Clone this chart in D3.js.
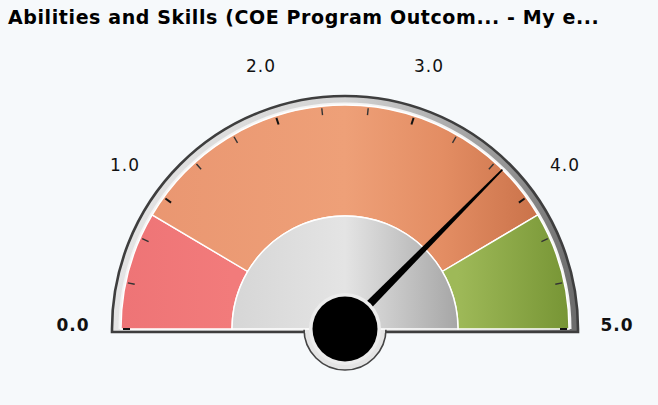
<!DOCTYPE html>
<html>
<head>
<meta charset="utf-8">
<script src="https://cdn.jsdelivr.net/npm/d3@7/dist/d3.min.js"></script>
<style>
  html, body { margin: 0; padding: 0; background: #f6f9fb; }
  svg { display: block; }
</style>
</head>
<body>
<svg id="chart" width="658" height="405"></svg>
<script>
// Gauge data
const title = "Abilities and Skills (COE Program Outcom... - My e...";
const scaleMin = 0;
const scaleMax = 5;
const tickLabels = ["0.0", "1.0", "2.0", "3.0", "4.0", "5.0"];
const labelValues = [0, 1, 2, 3, 4, 5];
const minorStep = 1 / 3;
const bandNames = ["low", "mid", "high"];
const bandFrom = [0, 0.85, 4.15];
const bandTo = [0.85, 4.15, 5];
const needleValue = 3.74;

const svg = d3.select("#chart");
const W = 658, H = 405;
const cx = 345, cy = 329;
const rFrame = 233, rBand = 224, rInner = 113, rLabel = 272;

// value -> d3.arc angle (0 at top, clockwise)
const ang = d3.scaleLinear().domain([scaleMin, scaleMax]).range([-Math.PI / 2, Math.PI / 2]);

svg.append("rect").attr("width", W).attr("height", H).attr("fill", "#f6f9fb");

svg.append("text")
  .attr("x", 8).attr("y", 24)
  .attr("font-family", "DejaVu Sans, Verdana, sans-serif")
  .attr("font-weight", "bold")
  .attr("font-size", 19)
  .attr("letter-spacing", 0.6)
  .attr("fill", "#000")
  .text(title);

// Gradients are given in the gauge's local coordinates (origin at the centre)
const defs = svg.append("defs");
function grad(id, x1, x2, stops) {
  const g = defs.append("linearGradient").attr("id", id)
    .attr("gradientUnits", "userSpaceOnUse")
    .attr("x1", x1).attr("x2", x2).attr("y1", 0).attr("y2", 0);
  stops.forEach(s => g.append("stop").attr("offset", s[0]).attr("stop-color", s[1]));
}
grad("rimGrad", -rFrame, rFrame, [[0, "#e4e4e4"], [0.5, "#d4d4d4"], [0.85, "#959595"], [1, "#6a6a6a"]]);
grad("g-low", -rBand, -rInner, [[0, "#ee7476"], [1, "#f27b7b"]]);
grad("g-mid", -rBand, rBand, [[0, "#e99570"], [0.5, "#eea078"], [0.72, "#e38d63"], [1, "#c26a42"]]);
grad("g-high", rInner, rBand, [[0, "#9eb958"], [1, "#779535"]]);
grad("g-inner", -rInner, rInner, [[0, "#d6d6d6"], [0.5, "#e4e4e4"], [1, "#a6a6a6"]]);

const gauge = svg.append("g").attr("transform", `translate(${cx},${cy})`);

// Frame: outer semicircle with a short straight drop to the base line
const drop = 3;
const framePath = d3.path();
framePath.moveTo(-rFrame, drop);
framePath.lineTo(-rFrame, 0);
framePath.arc(0, 0, rFrame, Math.PI, 2 * Math.PI);
framePath.lineTo(rFrame, drop);
framePath.closePath();
gauge.append("path").attr("d", framePath.toString())
  .attr("fill", "url(#rimGrad)")
  .attr("stroke", "#3e3e3e").attr("stroke-width", 2.6);

// light inner edge of the frame
gauge.append("path")
  .attr("d", d3.arc()({innerRadius: rBand, outerRadius: rBand + 2.5, startAngle: -Math.PI / 2, endAngle: Math.PI / 2}))
  .attr("fill", "#f4f4f4");

// Colour bands
const bandArc = d3.arc().innerRadius(rInner).outerRadius(rBand);
gauge.append("g")
  .selectAll("path").data(bandNames).join("path")
  .attr("d", (d, i) => bandArc({startAngle: ang(bandFrom[i]), endAngle: ang(bandTo[i])}))
  .attr("fill", d => `url(#g-${d})`)
  .attr("stroke", "#ffffff").attr("stroke-width", 1.4);

// Ticks
const tickVals = d3.range(0, 16).map(i => scaleMin + i * minorStep);
gauge.append("g").selectAll("line").data(tickVals).join("line")
  .each(function (v) {
    const a = ang(v);
    const major = Math.abs(v - Math.round(v)) < 1e-6;
    const r1 = rBand - 9, r2 = rBand - 2;
    d3.select(this)
      .attr("x1", r1 * Math.sin(a)).attr("y1", -r1 * Math.cos(a))
      .attr("x2", r2 * Math.sin(a)).attr("y2", -r2 * Math.cos(a))
      .attr("stroke", major ? "#111" : "#333")
      .attr("stroke-width", major ? 2 : 1.4);
  });

// Tick labels
svg.append("g").selectAll("text").data(tickLabels).join("text")
  .attr("x", (d, i) => cx + rLabel * Math.sin(ang(labelValues[i])))
  .attr("y", (d, i) => cy - rLabel * Math.cos(ang(labelValues[i])) - 4)
  .attr("dy", "0.36em")
  .attr("text-anchor", "middle")
  .attr("font-family", "DejaVu Sans, Verdana, sans-serif")
  .attr("font-size", 17)
  .attr("letter-spacing", 1)
  .attr("font-weight", (d, i) => (i === 0 || i === tickLabels.length - 1) ? "bold" : "normal")
  .attr("fill", "#111")
  .text(d => d);

// Cup below the base line around the hub
gauge.append("path")
  .attr("d", d3.arc()({innerRadius: 0, outerRadius: 41, startAngle: Math.PI / 2, endAngle: 3 * Math.PI / 2}))
  .attr("fill", "#e4e4e4").attr("stroke", "#444").attr("stroke-width", 1.6);
gauge.append("rect").attr("x", -40).attr("y", -1).attr("width", 80).attr("height", 5).attr("fill", "#e4e4e4");

// Inner grey semicircle
gauge.append("path")
  .attr("d", d3.arc()({innerRadius: 0, outerRadius: rInner, startAngle: -Math.PI / 2, endAngle: Math.PI / 2}))
  .attr("fill", "url(#g-inner)").attr("stroke", "#ffffff").attr("stroke-width", 1.4);

// Needle
const na = ang(needleValue);
const ux = Math.sin(na), uy = -Math.cos(na);
const px = -uy, py = ux;
const rTip = rBand;
const wBase = 4.6, wTip = 0.8;
const needle = [
  [px * wBase, py * wBase],
  [ux * rTip + px * wTip, uy * rTip + py * wTip],
  [ux * rTip - px * wTip, uy * rTip - py * wTip],
  [-px * wBase, -py * wBase]
];
gauge.append("path").attr("d", d3.line()(needle) + "Z").attr("fill", "#000");

// Hub
gauge.append("circle").attr("r", 36).attr("fill", "#ececec");
gauge.append("circle").attr("r", 32.5).attr("fill", "#000");
</script>
</body>
</html>
